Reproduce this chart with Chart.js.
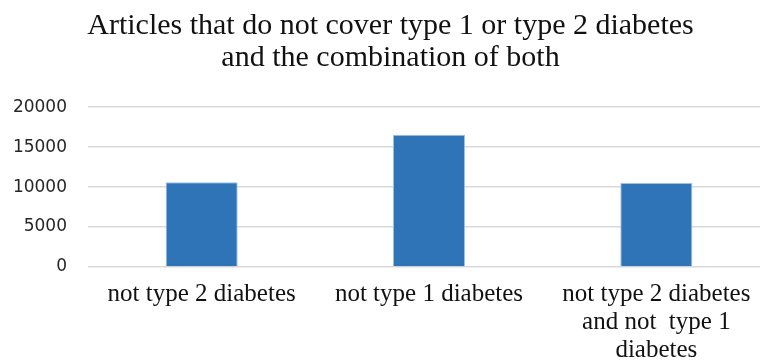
<!DOCTYPE html>
<html>
<head>
<meta charset="utf-8">
<script src="https://cdn.jsdelivr.net/npm/chart.js@4/dist/chart.umd.min.js"></script>
<style>
  html, body { margin: 0; padding: 0; background: #ffffff; overflow: hidden; }
  #wrap { width: 770px; height: 362px; position: relative; }
</style>
</head>
<body>
<div id="wrap"><canvas id="chart"></canvas></div>
<script>
// Article counts per exclusion group
const categories = [
  'not type 2 diabetes',
  'not type 1 diabetes',
  ['not type 2 diabetes', 'and not  type 1', 'diabetes']
];
const articleCounts = [10600, 16550, 10500];
const yTicks = [0, 5000, 10000, 15000, 20000];
const titleLines = [
  'Articles that do not cover type 1 or type 2 diabetes',
  'and the combination of both'
];

new Chart(document.getElementById('chart'), {
  type: 'bar',
  data: {
    labels: categories,
    datasets: [{
      data: articleCounts,
      backgroundColor: '#2E74B6',
      borderColor: '#9DC0E8',
      borderWidth: 1,
      barPercentage: 0.317,
      categoryPercentage: 1.0
    }]
  },
  options: {
    responsive: true,
    maintainAspectRatio: false,
    animation: false,
    layout: { padding: { left: 11, right: 0, top: 0, bottom: 0 } },
    plugins: {
      legend: { display: false },
      tooltip: { enabled: false },
      title: {
        display: true,
        text: titleLines,
        color: '#111111',
        font: { family: '"Liberation Serif", "Times New Roman", serif', size: 30, weight: 'normal', lineHeight: 1.07 },
        padding: { top: 10, bottom: 33 }
      }
    },
    scales: {
      x: {
        grid: { display: false },
        border: { display: false },
        ticks: {
          color: '#111111',
          padding: 5,
          maxRotation: 0,
          autoSkip: false,
          font: { family: '"Liberation Serif", "Times New Roman", serif', size: 25, lineHeight: 1.12 }
        },
        afterFit: (scale) => { scale.height = 95; }
      },
      y: {
        min: 0,
        max: 20000,
        afterBuildTicks: (scale) => { scale.ticks = yTicks.map(v => ({ value: v })); },
        grid: { color: '#D9D9D9', lineWidth: 1.5, drawTicks: false },
        border: { display: false },
        ticks: {
          color: '#262626',
          padding: 21,
          callback: (value) => String(value),
          font: { family: '"DejaVu Sans", sans-serif', size: 17 }
        },
        afterFit: (scale) => { scale.width = 77; }
      }
    }
  }
});
</script>
</body>
</html>
